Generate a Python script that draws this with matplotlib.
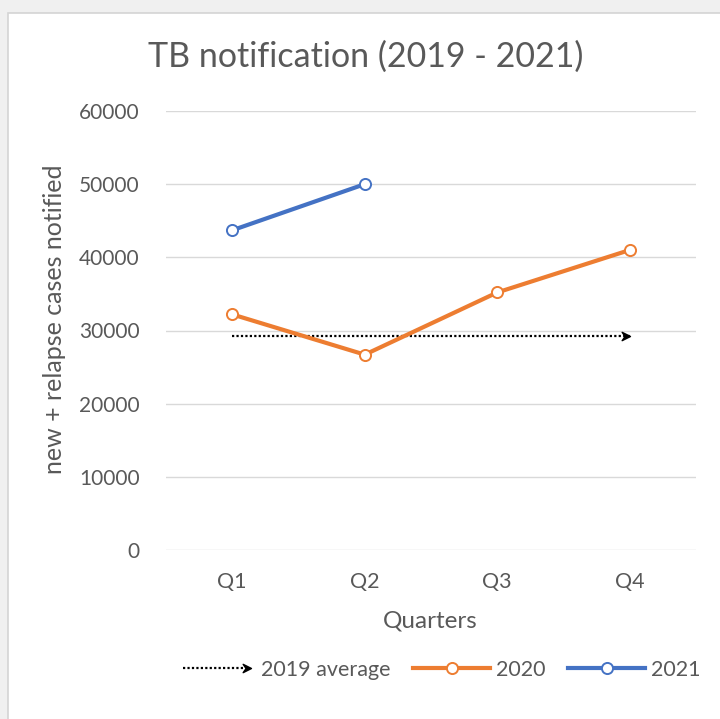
import matplotlib
matplotlib.use("Agg")
import matplotlib.pyplot as plt
from matplotlib.lines import Line2D
from matplotlib.legend_handler import HandlerBase
from matplotlib.path import Path
from matplotlib.patches import Rectangle

# ---- data ----
quarters = ["Q1", "Q2", "Q3", "Q4"]
cases_2020 = [32200, 26700, 35200, 41000]
cases_2021 = [43700, 50000]
avg_2019 = 29300
yticks = [0, 10000, 20000, 30000, 40000, 50000, 60000]

TXT = "#595959"
ORANGE = "#ED7D31"
BLUE = "#4472C4"
GRID = "#D9D9D9"
plt.rcParams["font.family"] = ["Lato", "DejaVu Sans"]

stealth = Path([(-2.0, -1.0), (0.0, 0.0), (-2.0, 1.0), (-1.3, 0.0), (-2.0, -1.0)],
               [Path.MOVETO, Path.LINETO, Path.LINETO, Path.LINETO, Path.CLOSEPOLY])

fig = plt.figure(figsize=(7.2, 7.19), dpi=100, facecolor="#F0F0F0")
fig.patches.append(Rectangle((8 / 720, -0.01), 1, 1.01 - 13 / 719, transform=fig.transFigure,
                             facecolor="white", edgecolor="#D4D4D4", lw=1.2, zorder=-10))

ax = fig.add_axes([166 / 720, 1 - 550 / 719, (696 - 166) / 720, (550 - 111) / 719])
ax.set_facecolor("none")
ax.set_zorder(2)
x = list(range(len(quarters)))

ax.plot([x[0], x[-1]], [avg_2019, avg_2019], color="black", ls=(0, (1, 1.0)), lw=1.6,
        zorder=3, solid_capstyle="butt")
ax.plot([x[-1]], [avg_2019], marker=stealth, color="black", ms=12, zorder=3, lw=0)

ax.plot(x, cases_2020, color=ORANGE, lw=3, marker="o", ms=8, mfc="white",
        mec=ORANGE, mew=1.4, zorder=4)
ax.plot(x[:len(cases_2021)], cases_2021, color=BLUE, lw=3, marker="o", ms=8,
        mfc="white", mec=BLUE, mew=1.4, zorder=5)

ax.set_xlim(-0.5, 3.5)
ax.set_ylim(0, 60000)
ax.set_yticks(yticks)
ax.set_yticklabels([str(v) for v in yticks])
ax.set_xticks(x)
ax.set_xticklabels(quarters)
ax.grid(axis="y", color=GRID, lw=1)
ax.set_axisbelow(True)
for s in ax.spines.values():
    s.set_visible(False)
ax.tick_params(length=0, colors=TXT)
ax.tick_params(axis="y", pad=19, labelsize=15)
ax.tick_params(axis="x", pad=16, labelsize=15.5)

fig.text(366 / 720, 1 - 57 / 719, "TB notification (2019 - 2021)", ha="center",
         va="center", fontsize=24.5, color=TXT)
fig.text(55 / 720, 1 - 319 / 719, "new + relapse cases notified", rotation=90,
         ha="center", va="center", fontsize=18, color=TXT)
fig.text(430 / 720, 1 - 621 / 719, "Quarters", ha="center", va="center",
         fontsize=17.5, color=TXT)


class ArrowHandler(HandlerBase):
    def create_artists(self, legend, orig_handle, xdescent, ydescent, width, height,
                       fontsize, trans):
        y = height / 2 - ydescent
        line = Line2D([-xdescent + 4, width - xdescent - 8], [y, y], color="black",
                      ls=(0, (1, 1.0)), lw=1.6, transform=trans)
        head = Line2D([width - xdescent - 3], [y], marker=stealth, color="black", ms=12,
                      lw=0, transform=trans)
        return [line, head]


h_avg = Line2D([], [], color="black")
h20 = Line2D([], [], color=ORANGE, lw=3, marker="o", ms=8, mfc="white", mec=ORANGE, mew=1.4)
h21 = Line2D([], [], color=BLUE, lw=3, marker="o", ms=8, mfc="white", mec=BLUE, mew=1.4)
leg = fig.legend([h_avg, h20, h21], ["2019 average", "2020", "2021"],
                 handler_map={h_avg: ArrowHandler()}, loc="center",
                 bbox_to_anchor=(439 / 720, 1 - 670 / 719), ncol=3, frameon=False,
                 fontsize=15.5, handlelength=3.6, handletextpad=0.25, columnspacing=1.05,
                 labelcolor=TXT)

fig.savefig("out.png", dpi=100, facecolor=fig.get_facecolor())
